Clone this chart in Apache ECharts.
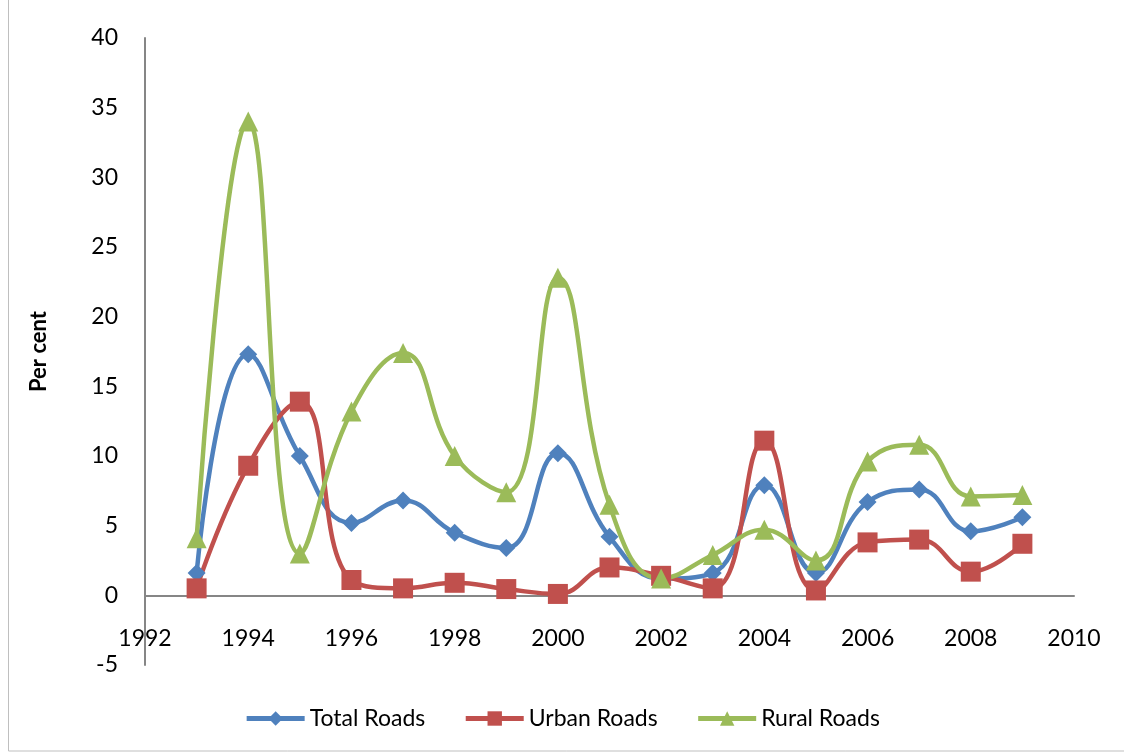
<!DOCTYPE html>
<html><head><meta charset="utf-8">
<script src="https://cdn.jsdelivr.net/npm/echarts@6/dist/echarts.min.js"></script>
<style>html,body{margin:0;padding:0;background:#fff}#c{width:1124px;height:753px}</style>
</head><body><div id="c"></div>
<script>
const years = [1993,1994,1995,1996,1997,1998,1999,2000,2001,2002,2003,2004,2005,2006,2007,2008,2009];
const totalRoads = [1.6,17.3,10.0,5.2,6.8,4.5,3.4,10.2,4.2,1.2,1.6,7.9,1.6,6.7,7.6,4.6,5.6];
const urbanRoads = [0.5,9.3,13.9,1.1,0.5,0.9,0.45,0.1,2.0,1.4,0.5,11.1,0.35,3.8,4.0,1.7,3.7];
const ruralRoads = [4.1,34.0,3.0,13.2,17.4,10.0,7.4,22.8,6.5,1.2,2.9,4.7,2.5,9.6,10.8,7.1,7.2];
const seriesNames = ['Total Roads','Urban Roads','Rural Roads'];
const yTitle = 'Per cent';

const chart = echarts.init(document.getElementById('c'), null, {renderer:'canvas'});
const font = 'Lato, "Open Sans", sans-serif';
function pairs(v){ return years.map((y,i)=>[y,v[i]]); }
function mk(name, data, color, symbol, size){
  return {name, type:'line', data:pairs(data), smooth:0.45, symbol, symbolSize:size,
    lineStyle:{color, width:4.5}, itemStyle:{color}, z:2};
}
chart.setOption({
  animation:false,
  textStyle:{fontFamily:font},
  graphic:[{type:'rect', shape:{x:8.5,y:-5,width:1130,height:756}, style:{fill:'none', stroke:'#bfbfbf', lineWidth:1}, silent:true}],
  grid:{left:145, right:50, top:38, bottom:88},
  xAxis:{type:'value', min:1992, max:2010, interval:2,
    axisLine:{onZero:true, lineStyle:{color:'#868686', width:2}},
    axisTick:{show:false}, splitLine:{show:false},
    axisLabel:{color:'#000', fontSize:23, fontFamily:font, margin:-38, formatter:v=>String(v)}},
  yAxis:{type:'value', min:-5, max:40, interval:5, name:yTitle, nameLocation:'middle', nameGap:95,
    nameTextStyle:{fontWeight:'bold', fontSize:22, color:'#000', fontFamily:font},
    axisLine:{show:true, lineStyle:{color:'#868686', width:2}},
    axisTick:{show:false}, splitLine:{show:false},
    axisLabel:{color:'#000', fontSize:23, fontFamily:font, margin:27}},
  legend:{bottom:18, left:'center', itemWidth:58, itemHeight:18, itemGap:38,
    lineStyle:{width:5},
    textStyle:{fontSize:23, color:'#000', fontFamily:font}, data:seriesNames},
  series:[
    mk(seriesNames[0], totalRoads, '#4F81BD', 'diamond', 18),
    mk(seriesNames[1], urbanRoads, '#C0504D', 'rect', 20),
    mk(seriesNames[2], ruralRoads, '#9BBB59', 'triangle', 20)
  ]
});
</script></body></html>
